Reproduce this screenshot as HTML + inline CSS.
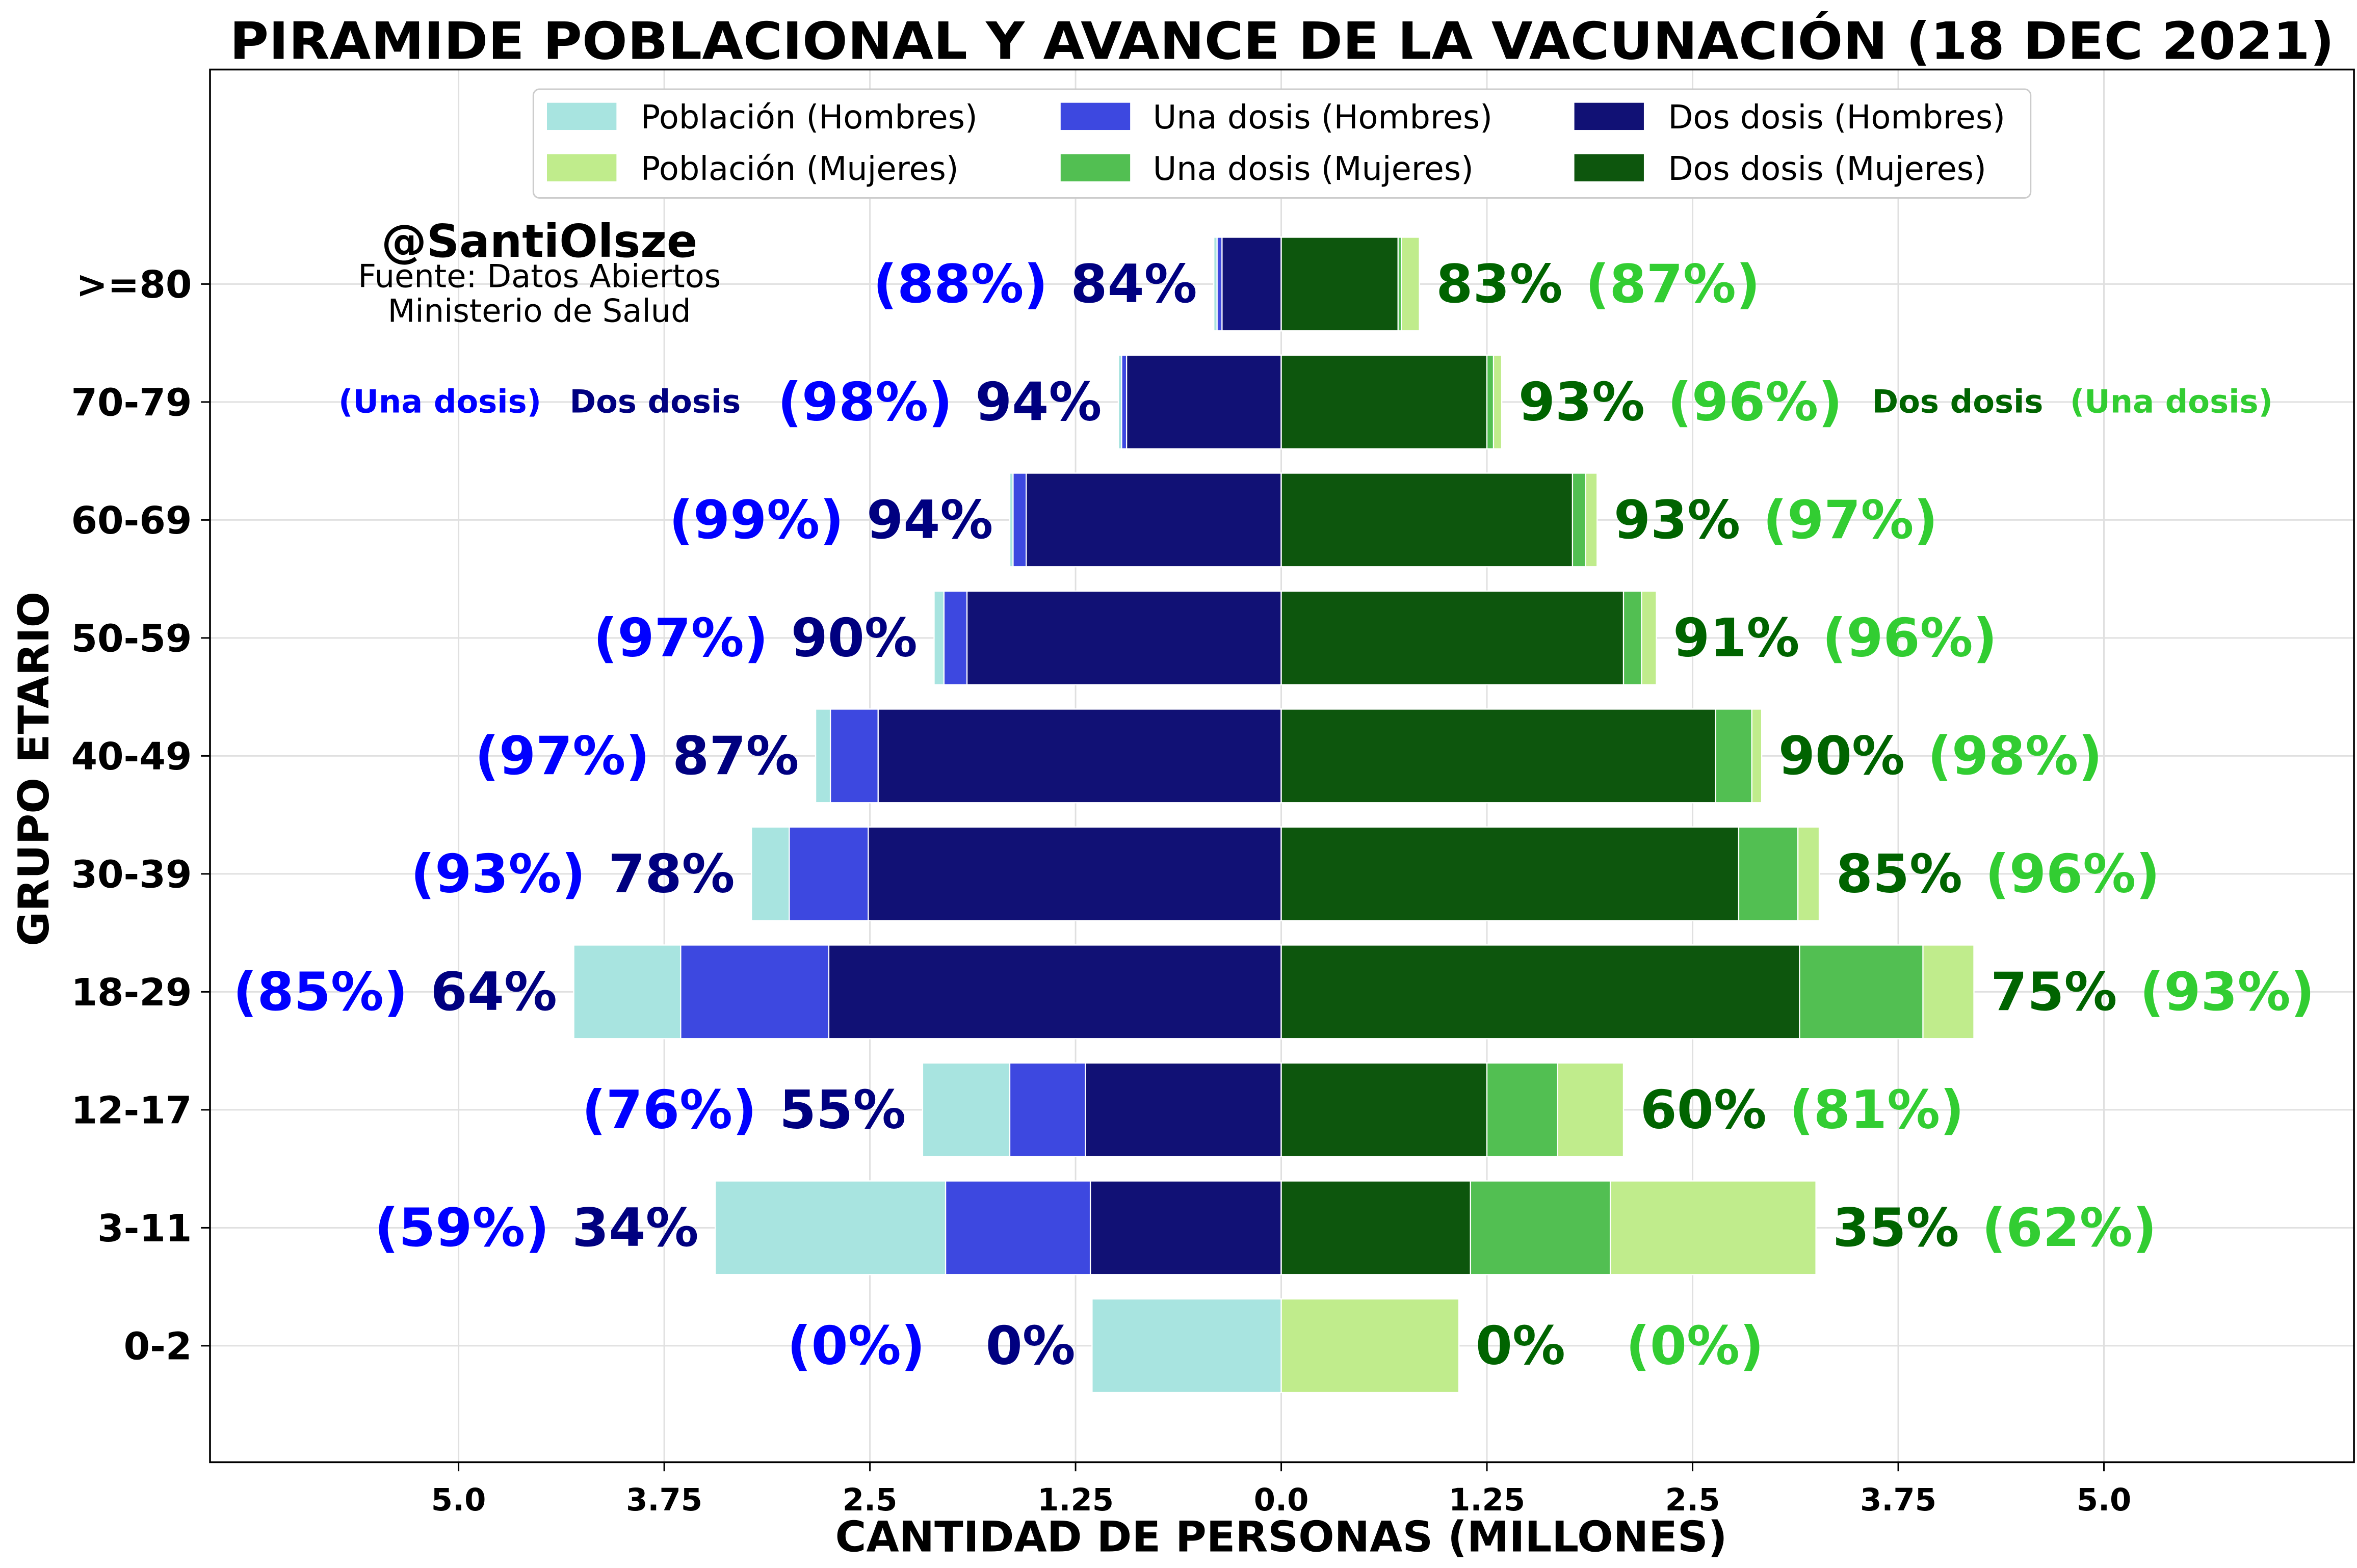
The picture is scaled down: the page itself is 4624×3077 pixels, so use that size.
<!DOCTYPE html>
<html><head><meta charset="utf-8">
<style>html,body{margin:0;padding:0;background:#fff}svg{display:block}text{font-family:"DejaVu Sans","Liberation Sans",sans-serif}</style>
</head><body>
<svg id="chart" width="4624" height="3077" viewBox="0 0 1560 1038" xmlns="http://www.w3.org/2000/svg">
<rect x="0" y="0" width="1560" height="1038" fill="#fff"/>
<text x="152" y="39" textLength="1393" lengthAdjust="spacingAndGlyphs" font-size="34" font-weight="bold">PIRAMIDE POBLACIONAL Y AVANCE DE LA VACUNACIÓN (18 DEC 2021)</text>
<g id="grid"></g>
<g id="bars"></g>
<g id="labels"></g>
<rect x="139" y="46" width="1419" height="922" fill="none" stroke="#000" stroke-width="1.2"/>
<g id="ticks"></g>
<text x="848" y="1027" text-anchor="middle" font-size="28" font-weight="bold">CANTIDAD DE PERSONAS (MILLONES)</text>
<text transform="translate(32,509) rotate(-90)" text-anchor="middle" font-size="28" font-weight="bold">GRUPO ETARIO</text>
<g>
<rect x="353" y="59" width="991" height="72" rx="4" fill="#fff" stroke="#ccc"/>
<rect x="362" y="68" width="46" height="18" fill="#a8e4e0"/>
<text x="424" y="85" font-size="21.5">Población (Hombres)</text>
<rect x="362" y="102" width="46" height="18" fill="#c0ec8c"/>
<text x="424" y="119" font-size="21.5">Población (Mujeres)</text>
<rect x="702" y="68" width="46" height="18" fill="#3d48e0"/>
<text x="763" y="85" font-size="21.5">Una dosis (Hombres)</text>
<rect x="702" y="102" width="46" height="18" fill="#52bf52"/>
<text x="763" y="119" font-size="21.5">Una dosis (Mujeres)</text>
<rect x="1042" y="68" width="46" height="18" fill="#111175"/>
<text x="1104" y="85" font-size="21.5">Dos dosis (Hombres)</text>
<rect x="1042" y="102" width="46" height="18" fill="#0d560d"/>
<text x="1104" y="119" font-size="21.5">Dos dosis (Mujeres)</text>
</g>
<text x="357" y="170" text-anchor="middle" font-size="30" font-weight="bold">@SantiOlsze</text>
<text x="357" y="190" text-anchor="middle" font-size="21">Fuente: Datos Abiertos</text>
<text x="357" y="213" text-anchor="middle" font-size="21">Ministerio de Salud</text>
<text x="224" y="273" font-size="21" font-weight="bold" fill="#0000ff">(Una dosis)</text>
<text x="377" y="273" font-size="21" font-weight="bold" fill="#000080">Dos dosis</text>
<text x="1239" y="273" font-size="21" font-weight="bold" fill="#006400">Dos dosis</text>
<text x="1370" y="273" font-size="21" font-weight="bold" fill="#32cd32">(Una dosis)</text>
</svg>
<script>
const groups=[">=80","70-79","60-69","50-59","40-49","30-39","18-29","12-17","3-11","0-2"];
const popMen=[0.41,0.99,1.65,2.11,2.83,3.22,4.30,2.18,3.44,1.15];
const oneMen=[0.39,0.97,1.63,2.05,2.74,2.99,3.65,1.65,2.04,0];
const twoMen=[0.36,0.94,1.55,1.91,2.45,2.51,2.75,1.19,1.16,0];
const popWomen=[0.84,1.34,1.92,2.28,2.92,3.27,4.21,2.08,3.25,1.08];
const oneWomen=[0.73,1.29,1.85,2.19,2.86,3.14,3.90,1.68,2.00,0];
const twoWomen=[0.71,1.25,1.77,2.08,2.64,2.78,3.15,1.25,1.15,0];
const pctOneMen=["88%","98%","99%","97%","97%","93%","85%","76%","59%","0%"];
const pctTwoMen=["84%","94%","94%","90%","87%","78%","64%","55%","34%","0%"];
const pctTwoWomen=["83%","93%","93%","91%","90%","85%","75%","60%","35%","0%"];
const pctOneWomen=["87%","96%","97%","96%","98%","96%","93%","81%","62%","0%"];
const xTicks=[-5,-3.75,-2.5,-1.25,0,1.25,2.5,3.75,5];
const xTickLabels=["5.0","3.75","2.5","1.25","0.0","1.25","2.5","3.75","5.0"];
const NS="http://www.w3.org/2000/svg";
const X=v=>848+v*108.9;
const Y=i=>188+i*78.1;
const BH=62;
function mk(tag,attrs,parent,txt){const e=document.createElementNS(NS,tag);for(const k in attrs)e.setAttribute(k,attrs[k]);if(txt!==undefined)e.textContent=txt;document.getElementById(parent).appendChild(e);return e;}
xTicks.forEach((t,i)=>{
  const g=mk('line',{x1:X(t),x2:X(t),y1:46,y2:968,stroke:'#e0e0e0','stroke-width':1},'grid');
  
  
  const tk=mk('line',{x1:X(t),x2:X(t),y1:968,y2:974,stroke:'#000'},'ticks');
  
  
  const l=mk('text',{x:X(t),y:1000,'text-anchor':'middle','font-size':20.5,'font-weight':'bold'},'ticks',xTickLabels[i]);
  
  
});
groups.forEach((g,i)=>{
  const y=Y(i);
  const gl=mk('line',{x1:139,x2:1558,y1:y,y2:y,stroke:'#e0e0e0','stroke-width':1},'grid');
  
  
  const tk=mk('line',{x1:133,x2:139,y1:y,y2:y,stroke:'#000'},'ticks');
  
  
  const tl=mk('text',{x:127,y:y+9,'text-anchor':'end','font-size':25,'font-weight':'bold'},'ticks',g);
  
  
  const series=[[popMen,'#a8e4e0',-1,'bar-pop-men'],[oneMen,'#3d48e0',-1,'bar-one-dose-men'],[twoMen,'#111175',-1,'bar-two-dose-men'],[popWomen,'#c0ec8c',1,'bar-pop-women'],[oneWomen,'#52bf52',1,'bar-one-dose-women'],[twoWomen,'#0d560d',1,'bar-two-dose-women']];
  series.forEach(s=>{
    const v=s[0][i]; if(!v)return;
    const x0=X(0),x1=X(s[2]*v);
    const r=mk('rect',{x:Math.min(x0,x1),y:y-BH/2,width:Math.abs(x1-x0),height:BH,fill:s[1],stroke:'#fff','stroke-width':0.8},'bars');
    
    
  });
  const zero=(oneMen[i]===0);
  const lx=X(-popMen[i])-11;
  const t2=mk('text',{x:lx,y:y+12,'text-anchor':'end','font-size':35,'font-weight':'bold',fill:'#000080'},'labels',pctTwoMen[i]);
  
  
  const w2=t2.getBBox().width;
  const t1=mk('text',{x:lx-w2-(zero?40:15),y:y+12,'text-anchor':'end','font-size':35,'font-weight':'bold',fill:'#0000ff'},'labels','('+pctOneMen[i]+')');
  
  
  const rx=X(popWomen[i])+11;
  const r2=mk('text',{x:rx,y:y+12,'font-size':35,'font-weight':'bold',fill:'#006400'},'labels',pctTwoWomen[i]);
  
  
  const rw=r2.getBBox().width;
  const r1=mk('text',{x:rx+rw+(zero?40:15),y:y+12,'font-size':35,'font-weight':'bold',fill:'#32cd32'},'labels','('+pctOneWomen[i]+')');
  
  
});
</script>
</body></html>
